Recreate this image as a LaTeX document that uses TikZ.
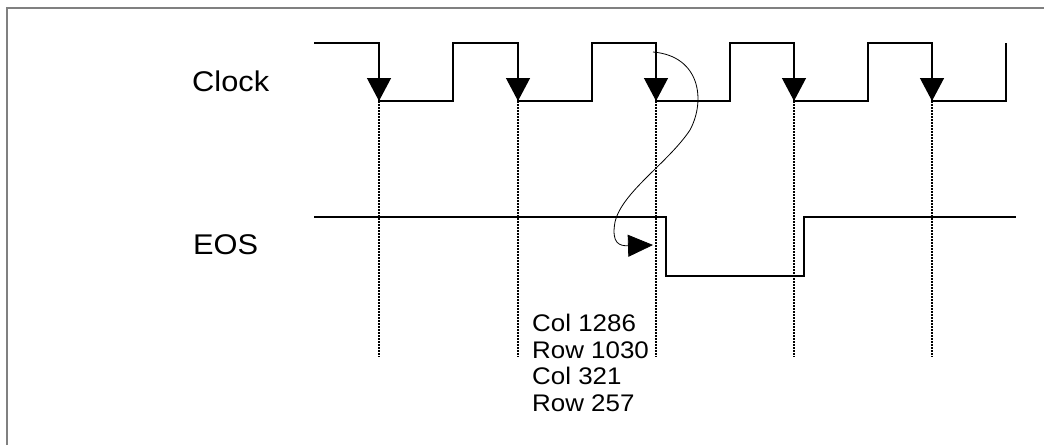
\documentclass[tikz,border=0pt]{standalone}
\usepackage{fontspec}
\setmainfont[FakeStretch=1.08]{Liberation Sans}
\usetikzlibrary{arrows.meta, positioning, calc}

\begin{document}
\begin{tikzpicture}[
    x=1pt, y=-1pt,
    >={Triangle[length=23pt, width=24pt]},
    frame/.style={draw=black!50, line width=2pt},
    wave/.style={draw, line width=1.3pt},
    edge/.style={draw, line width=1.3pt, ->},
    marker/.style={draw, line width=1.5pt, dash pattern=on 1.5pt off 1.5pt},
    link/.style={draw, line width=0.8pt, -{Triangle[length=25pt, width=22pt]}},
    signal/.style={font=\fontsize{28.5}{32}\selectfont, anchor=base west, inner sep=0pt},
    note/.style={font=\fontsize{24}{26.7}\selectfont, align=left, anchor=north west, inner sep=0pt}
]

\useasboundingbox (0,0) rectangle (1044,445);
\draw[frame] (7,445) -- (7,8) -- (1044,8);

% ==========================================
% CLOCK
% ==========================================

\node[signal] (clocklabel) at (192,91) {Clock};

\coordinate (clk0) at (314,43);
\draw[wave] (clk0) -- (379,43) -- (379,101) -- (453,101)
    -- (453,43) -- (518,43) -- (518,101) -- (592,101)
    -- (592,43) -- (656,43) -- (656,101) -- (730,101)
    -- (730,43) -- (794,43) -- (794,101) -- (868,101)
    -- (868,43) -- (932,43) -- (932,101) -- (1006,101) -- (1006,43);

% falling edges: arrow + dotted marker
\foreach \x [count=\i] in {379,518,656,794,932} {
    \coordinate (top\i) at (\x,43);
    \coordinate (fall\i) at (\x,101);
    \coordinate (foot\i) at (\x,357);
    \draw[edge] (top\i) -- (fall\i);
    \draw[marker] (fall\i) -- (foot\i);
}

% ==========================================
% EOS
% ==========================================

\node[signal] (eoslabel) at (193,254) {EOS};

\coordinate (eos0) at (314,217);
\draw[wave] (eos0) -- (666,217) -- (666,276) -- (804,276) -- (804,217) -- (1016,217);

% causal link from third clock edge
\coordinate (loopstart) at (653,52);
\coordinate (loopend) at (653,245);
\draw[link] (loopstart) .. controls (700,56) and (706,100) .. (690,130)
    .. controls (668,163) and (622,192) .. (615,222)
    .. controls (611,244) and (620,246) .. (loopend);

\node[note] (colrow) at (532,314) {Col 1286\\Row 1030\\Col 321\\Row 257};

\end{tikzpicture}
\end{document}
